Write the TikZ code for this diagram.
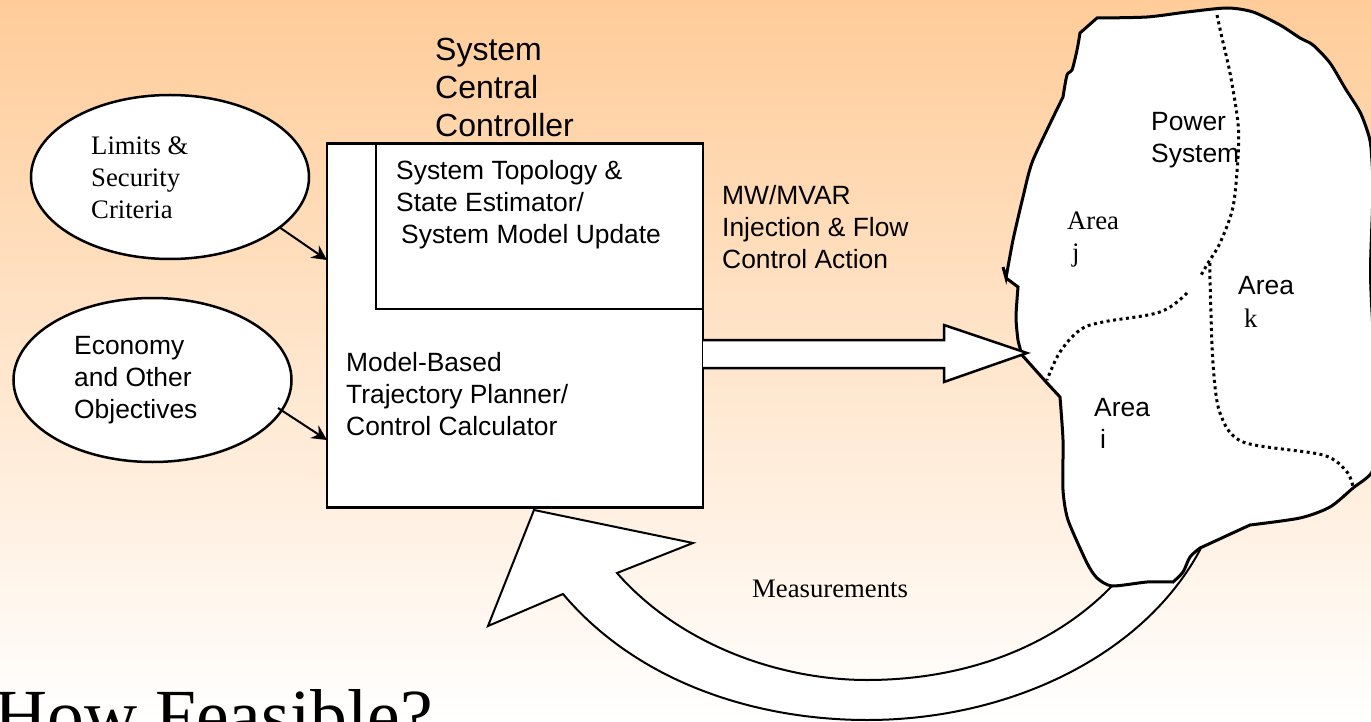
\documentclass[tikz,border=0pt]{standalone}
\usepackage{fontspec}
\setmainfont{Liberation Serif}
\setsansfont{Liberation Sans}
\usetikzlibrary{arrows.meta,shapes.geometric}
\definecolor{slidetop}{RGB}{255,204,153}

\begin{document}
\begin{tikzpicture}[x=1pt,y=-1pt,line join=miter,
    outline/.style={draw=black,line width=2.5pt,fill=white},
    objective/.style={outline,ellipse,minimum width=278pt,minimum height=164pt,inner sep=0pt},
    boundary/.style={draw=black,line width=3pt,dash pattern=on 3pt off 3.5pt},
    feed/.style={draw=black,line width=2pt,-{Stealth[length=15pt,width=15pt]}},
    sanstext/.style={font=\fontsize{26.4}{32}\selectfont\sffamily,align=left,inner sep=0pt,anchor=north west},
    seriftext/.style={font=\fontsize{26.7}{32}\selectfont\rmfamily,align=left,inner sep=0pt,anchor=north west}]
    \useasboundingbox (0,0) rectangle (1371,722);
    \shade[top color=slidetop,bottom color=white] (0,0) rectangle (1371,722);

    % measurements arrow
    \draw[outline,line width=2pt] (534,510) -- (693,543) -- (617,573)
        .. controls (680,645) and (780,680) .. (867,680)
        .. controls (960,680) and (1050,650) .. (1112,586)
        -- (1201,548)
        .. controls (1145,655) and (1010,720) .. (867,720)
        .. controls (760,720) and (640,685) .. (563,594)
        -- (488,626) -- cycle;

    % power system outline
    \draw[outline,line width=3pt] plot[smooth,tension=.45] coordinates {(1097,18) (1147,17) (1187,12) (1227,8) (1253,12)
            (1280,25) (1300,38) (1313,45) (1330,63) (1345,88) (1360,112) (1368,133) (1371,148) (1373,190) (1370.5,270)
            (1373,330) (1380,440) (1372,472) (1353,488) (1330,507) (1300,518) (1250,525)}
        -- (1200,548)
        -- plot[smooth,tension=.5] coordinates {(1200,548) (1190,557) (1183,572) (1173,582)}
        -- plot[smooth,tension=.4] coordinates {(1173,582) (1147,582) (1112,586) (1097,578) (1087,563) (1068,520)
            (1063,490) (1063,440) (1060,397)}
        -- (1047,383) -- (1022,355)
        -- plot[smooth,tension=.4] coordinates {(1022,355) (1018,340) (1016,317) (1018,287)}
        -- (1006,278) -- (1003,267) -- (1006,278)
        -- plot[smooth,tension=.4] coordinates {(1006,278) (1013,240) (1023,197) (1033,160) (1063,97)}
        -- plot[smooth,tension=.5] coordinates {(1063,97) (1067,75) (1072,70) (1077,50) (1080,33)}
        -- cycle;

    % area boundaries
    \draw[boundary] plot[smooth,tension=.5] coordinates {(1217,15) (1222,38) (1230,73) (1238,123) (1238,157)
        (1233,207) (1220,243) (1208,263) (1200,277)};
    \draw[boundary] plot[smooth,tension=.5] coordinates {(1210,263) (1210,280) (1213,363) (1220,413) (1243,442)
        (1323,455) (1347,472) (1353,487)};
    \draw[boundary] plot[smooth,tension=.6] coordinates {(1187,293) (1160,312) (1103,322) (1080,330) (1060,352) (1047,380)};

    % central controller
    \node[outline,rectangle,minimum width=376pt,minimum height=364pt,inner sep=0pt] (controller) at (515,325.5) {};
    \coordinate (modelcorner) at (376,309);
    \draw[outline,fill=none] (modelcorner |- controller.north) -- (modelcorner) -- (modelcorner -| controller.east);

    % control action arrow
    \draw[outline] (703,340) -- (944,340) -- (944,325) -- (1027,353) -- (944,382) -- (944,368) -- (703,368);

    % objectives
    \node[objective] (limits) at (170,177) {};
    \node[objective] (economy) at (152.5,380) {};
    \coordinate (limitsout) at (280.5,228);
    \coordinate (limitsin) at (327,260);
    \coordinate (economyout) at (278,408);
    \coordinate (economyin) at (327,440);
    \draw[feed] (limitsout) -- (limitsin);
    \draw[feed] (economyout) -- (economyin);

    % labels
    \node[sanstext,font=\fontsize{32}{38}\selectfont\sffamily] (title) at (435,37.5) {System\\Central\\Controller};
    \node[sanstext] (topology) at (396,160) {System Topology \&\\State Estimator/\\\hspace*{5pt}System Model Update};
    \node[sanstext] (planner) at (346,352.5) {Model-Based\\Trajectory Planner/\\Control Calculator};
    \node[sanstext] (action) at (722,185.5) {MW/MVAR\\Injection \& Flow\\Control Action};
    \node[seriftext] (limitstext) at (91,137) {Limits \&\\Security\\Criteria};
    \node[sanstext] (economytext) at (74,336.5) {Economy\\and Other\\Objectives};
    \node[sanstext] (power) at (1151,112) {Power\\System};
    \node[seriftext] (areaj) at (1067,212) {Area\\\hspace*{5pt}j};
    \node[sanstext] (areak) at (1238,276) {Area};
    \node[seriftext] (letterk) at (1244,309) {k};
    \node[sanstext] (areai) at (1094,398.5) {Area\\\hspace*{6pt}i};
    \node[seriftext] (measure) at (752,580) {Measurements};
    \node[seriftext,font=\fontsize{73.5}{88}\selectfont\rmfamily] (feasible) at (-6,689.5) {How Feasible?};
\end{tikzpicture}
\end{document}
